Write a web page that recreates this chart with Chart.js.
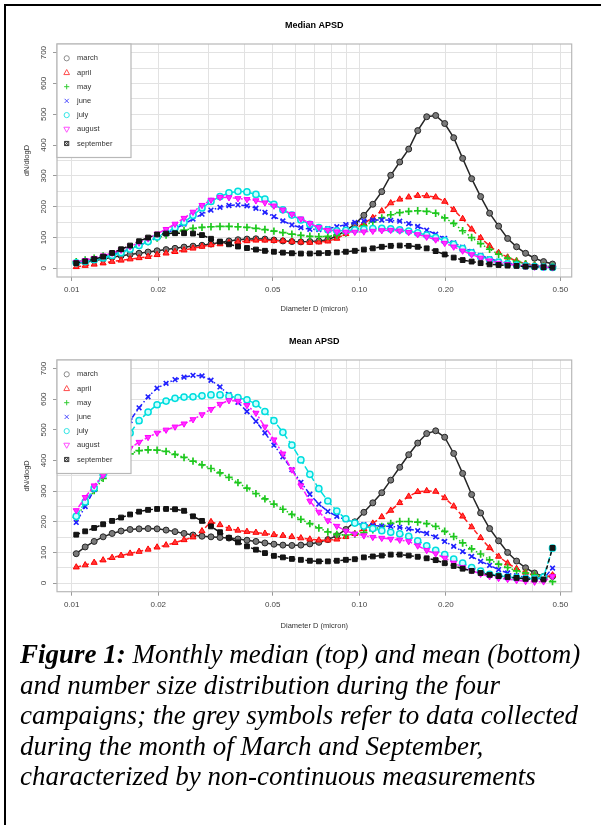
<!DOCTYPE html>
<html>
<head>
<meta charset="utf-8">
<title>Median and mean APSD</title>
<script src="https://cdn.jsdelivr.net/npm/chart.js@4.4.1/dist/chart.umd.min.js"></script>
<style>
    html, body { margin: 0; padding: 0; background: #fff; }
    body { width: 601px; height: 825px; position: relative; overflow: hidden; }
    .rule-top { position: absolute; left: 4px; top: 4px; width: 597px; height: 2px; background: #000; }
    .rule-left { position: absolute; left: 4px; top: 4px; width: 2px; height: 821px; background: #000; }
    .chart-box { position: absolute; left: 0; width: 601px; height: 320px; }
    #box-median { top: 0; }
    #box-mean { top: 316px; }
    .caption {
        position: absolute; left: 20px; top: 639px; width: 581px;
        font-family: "Liberation Serif", "Times New Roman", serif;
        font-style: italic; font-size: 27px; line-height: 30.5px; color: #000;
        white-space: nowrap;
    }
    .caption b { font-weight: bold; }
</style>
</head>
<body>
<div class="rule-top"></div>
<div class="rule-left"></div>
<div class="chart-box" id="box-median"><canvas id="chart-median"></canvas></div>
<div class="chart-box" id="box-mean"><canvas id="chart-mean"></canvas></div>
<div class="caption">
    <b>Figure 1:</b> Monthly median (top) and mean (bottom)<br>
    and number size distribution during the four<br>
    campaigns; the grey symbols refer to data collected<br>
    during the month of March and September,<br>
    characterized by non-continuous measurements
</div>

<script>
// ---- data (diameter in micron, dN/dlogD) ----
const months = ['march', 'april', 'may', 'june', 'july', 'august', 'september'];

const diameters = [
    0.01037, 0.01114, 0.01197, 0.01286, 0.01382, 0.01485, 0.01596, 0.01715, 0.01843, 0.01981,
    0.02129, 0.02287, 0.02458, 0.02641, 0.02838, 0.03050, 0.03278, 0.03522, 0.03785, 0.04068,
    0.04371, 0.04697, 0.05048, 0.05424, 0.05829, 0.06264, 0.06731, 0.07233, 0.07773, 0.08353,
    0.08976, 0.09646, 0.1037, 0.1114, 0.1197, 0.1286, 0.1382, 0.1485, 0.1596, 0.1715,
    0.1843, 0.1981, 0.2129, 0.2287, 0.2458, 0.2641, 0.2838, 0.3050, 0.3278, 0.3522,
    0.3785, 0.4068, 0.4371, 0.4697
];

// Median APSD
const medianMarch = [17, 20, 25, 30, 36, 41, 45, 49, 53, 57, 61, 65, 69, 72, 75, 79, 84, 89, 93, 95,
    96, 95, 92, 89, 87, 86, 87, 89, 93, 105, 123, 143, 172, 208, 249, 302, 345, 387, 447, 492,
    496, 470, 424, 357, 291, 233, 179, 137, 97, 70, 49, 33, 22, 14];
const medianApril = [5, 9, 13, 17, 22, 26, 30, 34, 38, 44, 49, 54, 59, 65, 71, 76, 79, 83, 86, 89,
    91, 91, 90, 89, 87, 85, 84, 85, 88, 97, 112, 128, 146, 164, 186, 212, 224, 231, 236, 235,
    231, 217, 190, 161, 127, 99, 73, 51, 36, 24, 15, 11, 8, 5];
const medianMay = [22, 27, 33, 40, 48, 57, 66, 76, 87, 98, 108, 117, 124, 130, 133, 135, 136, 136, 135, 133,
    130, 126, 121, 116, 111, 107, 104, 103, 104, 108, 115, 125, 138, 151, 164, 174, 181, 185, 187, 185,
    179, 164, 146, 122, 100, 80, 62, 46, 33, 23, 15, 10, 7, 6];
const medianJune = [18, 23, 29, 36, 44, 53, 63, 74, 87, 100, 113, 128, 144, 160, 176, 189, 198, 204, 206, 203,
    195, 182, 168, 154, 141, 132, 127, 126, 129, 135, 142, 149, 154, 157, 157, 156, 153, 145, 136, 124,
    111, 97, 83, 69, 55, 42, 31, 23, 17, 12, 9, 7, 6, 4];
const medianJuly = [18, 22, 28, 34, 42, 51, 62, 74, 87, 102, 116, 132, 150, 172, 196, 217, 233, 245, 250, 248,
    240, 225, 208, 190, 173, 157, 143, 132, 125, 122, 123, 125, 127, 129, 130, 128, 125, 121, 115, 108,
    100, 90, 78, 64, 50, 38, 28, 20, 15, 11, 8, 6, 4, 3];
const medianAugust = [20, 26, 33, 41, 50, 60, 71, 83, 97, 112, 127, 144, 163, 183, 205, 222, 231, 230, 227, 224,
    220, 213, 203, 190, 176, 161, 146, 133, 124, 119, 118, 118, 119, 121, 123, 124, 122, 117, 110, 102,
    93, 82, 70, 57, 45, 34, 25, 17, 13, 10, 7, 5, 4, 3];
const medianSeptember = [17, 23, 30, 38, 50, 62, 74, 88, 100, 110, 113, 114, 114, 113, 108, 96, 87, 78, 71, 66,
    61, 57, 54, 51, 49, 48, 48, 49, 50, 52, 54, 57, 61, 65, 70, 73, 74, 73, 70, 65,
    56, 45, 35, 27, 22, 17, 13, 11, 9, 8, 6, 5, 4, 3];

// Mean APSD
const meanMarch = [96, 118, 136, 151, 162, 170, 175, 177, 178, 177, 173, 168, 162, 157, 153, 151, 149, 147, 144, 140,
    136, 131, 127, 124, 123, 124, 128, 133, 142, 155, 175, 200, 231, 262, 295, 336, 378, 419, 457, 488,
    497, 476, 423, 358, 289, 229, 178, 138, 100, 72, 50, 33, 22, 22];
const meanApril = [52, 59, 67, 75, 83, 90, 97, 103, 110, 117, 124, 132, 141, 150, 170, 200, 190, 178, 172, 168,
    165, 162, 158, 155, 151, 147, 143, 140, 140, 143, 151, 161, 177, 195, 216, 237, 262, 283, 298, 301,
    299, 278, 251, 218, 183, 148, 115, 87, 65, 47, 35, 24, 18, 26];
const meanMay = [215, 258, 302, 342, 378, 405, 422, 432, 435, 434, 430, 420, 410, 398, 386, 374, 360, 345, 328, 310,
    292, 275, 258, 241, 224, 208, 194, 180, 167, 159, 157, 160, 165, 174, 185, 195, 201, 201, 199, 194,
    185, 169, 152, 131, 112, 95, 76, 62, 51, 40, 33, 27, 19, 5];
const meanJune = [198, 250, 305, 360, 420, 480, 530, 572, 608, 636, 652, 664, 672, 678, 676, 662, 640, 615, 590, 560,
    528, 490, 450, 412, 370, 329, 290, 258, 234, 218, 207, 197, 191, 188, 186, 185, 182, 177, 171, 162,
    151, 136, 120, 103, 87, 71, 58, 44, 33, 24, 19, 16, 14, 49];
const meanJuly = [218, 265, 310, 355, 400, 445, 490, 530, 558, 582, 594, 603, 607, 608, 611, 614, 614, 610, 605, 598,
    585, 560, 530, 492, 450, 402, 355, 308, 268, 235, 210, 196, 186, 178, 171, 166, 161, 153, 138, 122,
    107, 93, 78, 65, 51, 39, 29, 24, 20, 17, 15, 15, 20, 114];
const meanAugust = [237, 280, 318, 352, 385, 415, 440, 460, 476, 490, 500, 510, 520, 534, 550, 567, 584, 596, 594, 580,
    555, 510, 468, 422, 370, 318, 268, 232, 204, 186, 170, 161, 155, 150, 147, 144, 141, 136, 122, 107,
    96, 82, 66, 52, 41, 30, 22, 16, 13, 9, 6, 4, 5, 22];
const meanSeptember = [158, 169, 180, 192, 203, 214, 224, 233, 239, 242, 242, 241, 236, 218, 203, 185, 166, 148, 133, 120,
    109, 98, 89, 84, 79, 76, 73, 71, 71, 73, 76, 78, 84, 87, 90, 93, 93, 90, 86, 81,
    75, 65, 56, 47, 40, 33, 27, 23, 20, 17, 14, 12, 12, 115];

// axes: grid positions and labelled ticks
const xGridTicks = [0.01, 0.02, 0.03, 0.04, 0.05, 0.06, 0.07, 0.08, 0.09, 0.1, 0.2, 0.3, 0.4, 0.5];
const xLabelValues = [0.01, 0.02, 0.05, 0.1, 0.2, 0.5];
const xLabelText = ['0.01', '0.02', '0.05', '0.10', '0.20', '0.50'];
const yGridTicks = [0, 50, 100, 150, 200, 250, 300, 350, 400, 450, 500, 550, 600, 650, 700];
const yLabelValues = [0, 100, 200, 300, 400, 500, 600, 700];

// ---- look (R base graphics style) ----
const FONT = '"Liberation Sans", Arial, Helvetica, sans-serif';

const STYLES = [
    { line: '#262626', fill: '#7a7a7a', edge: '#262626', shape: 'circle',   rot: 0,   r: 3.0, bw: 1,   dash: [],              key: '#8c8c8c' },
    { line: '#ff2020', fill: '#ff3a3a', edge: '#ff0000', shape: 'triangle', rot: 0,   r: 3.5, bw: 1,   dash: [5, 3],          key: '#ff4d4d' },
    { line: '#1ec81e', fill: '#1ec81e', edge: '#1ec81e', shape: 'cross',    rot: 0,   r: 3.7, bw: 1.7, dash: [1.5, 2.5],      key: '#33cc33' },
    { line: '#2020ff', fill: '#2020ff', edge: '#2020ff', shape: 'crossRot', rot: 0,   r: 3.3, bw: 1.6, dash: [1.5, 2.5, 5, 2.5], key: '#4d4dff' },
    { line: '#00dede', fill: '#c8ffff', edge: '#00dede', shape: 'circle',   rot: 0,   r: 3.1, bw: 1.5, dash: [7, 3],          key: '#33e6e6' },
    { line: '#ff1aff', fill: '#ff33ff', edge: '#ff00ff', shape: 'triangle', rot: 180, r: 3.5, bw: 1,   dash: [2, 2, 6, 2],    key: '#ff4dff' },
    { line: '#111111', fill: '#151515', edge: '#111111', shape: 'rect',     rot: 0,   r: 3.4, bw: 1,   dash: [4, 3],          key: '#333333' }
];

/**
 * Small legend key, open symbols like R's legend()
 */
function drawKey(ctx, shape, rot, x, y, color) {
    const s = 2.6;
    ctx.strokeStyle = color;
    ctx.lineWidth = 1;
    ctx.beginPath();
    if (shape === 'circle') {
        ctx.arc(x, y, s, 0, Math.PI * 2);
    } else if (shape === 'triangle') {
        const d = rot ? -1 : 1;
        ctx.moveTo(x, y - d * s * 1.15);
        ctx.lineTo(x + s * 1.1, y + d * s * 0.8);
        ctx.lineTo(x - s * 1.1, y + d * s * 0.8);
        ctx.closePath();
    } else if (shape === 'cross') {
        ctx.moveTo(x - s, y); ctx.lineTo(x + s, y);
        ctx.moveTo(x, y - s); ctx.lineTo(x, y + s);
    } else if (shape === 'crossRot') {
        ctx.moveTo(x - s * 0.8, y - s * 0.8); ctx.lineTo(x + s * 0.8, y + s * 0.8);
        ctx.moveTo(x + s * 0.8, y - s * 0.8); ctx.lineTo(x - s * 0.8, y + s * 0.8);
    } else {
        ctx.rect(x - s * 0.8, y - s * 0.8, s * 1.6, s * 1.6);
        ctx.moveTo(x - s * 0.8, y - s * 0.8); ctx.lineTo(x + s * 0.8, y + s * 0.8);
        ctx.moveTo(x + s * 0.8, y - s * 0.8); ctx.lineTo(x - s * 0.8, y + s * 0.8);
    }
    ctx.stroke();
}

// frame, legend box and rotated y labels, drawn the way R does them
const rDecor = {
    id: 'rDecor',
    afterDatasetsDraw(chart) {
        const { ctx, chartArea: ca } = chart;
        ctx.save();
        ctx.strokeStyle = '#b8b8b8';
        ctx.lineWidth = 1.2;
        ctx.strokeRect(ca.left, ca.top, ca.right - ca.left, ca.bottom - ca.top);

        // legend in the top-left corner of the plot
        const lw = 74, lh = 113.5;
        ctx.fillStyle = '#fff';
        ctx.fillRect(ca.left, ca.top, lw, lh);
        ctx.strokeRect(ca.left, ca.top, lw, lh);
        ctx.font = '7.5px ' + FONT;
        ctx.textBaseline = 'middle';
        ctx.textAlign = 'left';
        months.forEach((m, i) => {
            const y = ca.top + 14.3 + i * 14.2;
            const st = STYLES[i];
            drawKey(ctx, st.shape, st.rot, ca.left + 9.7, y, st.key);
            ctx.fillStyle = '#333';
            ctx.fillText(m, ca.left + 20, y);
        });
        ctx.restore();
    },
    afterDraw(chart) {
        const { ctx, chartArea: ca } = chart;
        const yScale = chart.scales.y;
        ctx.save();
        ctx.font = '8px ' + FONT;
        ctx.fillStyle = '#444';
        ctx.textAlign = 'center';
        ctx.textBaseline = 'middle';
        yLabelValues.forEach(v => {
            const py = yScale.getPixelForValue(v);
            ctx.save();
            ctx.translate(ca.left - 13.5, py);
            ctx.rotate(-Math.PI / 2);
            ctx.fillText(String(v), 0, 0);
            ctx.restore();
        });
        ctx.restore();
    }
};

/**
 * Build one APSD panel
 */
function makePanel(canvasId, title, seriesList, geom) {
    const canvas = document.getElementById(canvasId);
    const datasets = seriesList.map((values, i) => {
        const st = STYLES[i];
        return {
            label: months[i],
            data: values,
            borderColor: st.line,
            borderWidth: 1.5,
            borderDash: st.dash,
            pointStyle: st.shape,
            pointRotation: st.rot,
            pointRadius: st.r,
            pointBackgroundColor: st.fill,
            pointBorderColor: st.edge,
            pointBorderWidth: st.bw,
            tension: 0,
            fill: false,
            order: months.length - i
        };
    });

    return new Chart(canvas.getContext('2d'), {
        type: 'line',
        data: { labels: diameters, datasets },
        options: {
            responsive: true,
            maintainAspectRatio: false,
            animation: false,
            events: [],
            layout: { padding: { left: 0, right: 29.3, top: 0, bottom: 0 } },
            plugins: {
                legend: { display: false },
                tooltip: { enabled: false },
                title: {
                    display: true,
                    text: title,
                    fullSize: false,
                    color: '#000',
                    font: { family: FONT, size: 9, weight: 'bold' },
                    padding: { top: 20, bottom: 13.2 }
                }
            },
            scales: {
                x: {
                    type: 'logarithmic',
                    bounds: 'data',
                    min: 0.00889,
                    max: 0.5476,
                    afterBuildTicks: s => { s.ticks = xGridTicks.map(v => ({ value: v })); },
                    afterFit: s => { s.height = geom.xHeight; },
                    border: { display: false },
                    grid: {
                        color: '#e2e2e2',
                        lineWidth: 1,
                        tickLength: 4,
                        tickColor: c => xLabelValues.includes(c.tick && c.tick.value) ? '#9a9a9a' : 'rgba(0,0,0,0)'
                    },
                    ticks: {
                        autoSkip: false,
                        maxRotation: 0,
                        minRotation: 0,
                        padding: 4,
                        color: '#444',
                        font: { family: FONT, size: 8 },
                        callback: v => {
                            const k = xLabelValues.indexOf(v);
                            return k >= 0 ? xLabelText[k] : '';
                        }
                    },
                    title: {
                        display: true,
                        text: 'Diameter D (micron)',
                        color: '#333',
                        font: { family: FONT, size: 7.5 },
                        padding: { top: 0, bottom: geom.xTitlePad }
                    }
                },
                y: {
                    type: 'linear',
                    bounds: 'data',
                    min: -28,
                    max: 728,
                    afterBuildTicks: s => { s.ticks = yGridTicks.map(v => ({ value: v })); },
                    afterFit: s => { s.width = 57; },
                    border: { display: false },
                    grid: {
                        color: '#e2e2e2',
                        lineWidth: 1,
                        tickLength: 4,
                        tickColor: c => yLabelValues.includes(c.tick && c.tick.value) ? '#9a9a9a' : 'rgba(0,0,0,0)'
                    },
                    ticks: { display: false },
                    title: {
                        display: true,
                        text: 'dN/dlogD',
                        color: '#333',
                        font: { family: FONT, size: 7.5 },
                        padding: { top: 22.5, bottom: 0 }
                    }
                }
            }
        },
        plugins: [rDecor]
    });
}

makePanel('chart-median', 'Median APSD',
    [medianMarch, medianApril, medianMay, medianJune, medianJuly, medianAugust, medianSeptember],
    { xHeight: 43, xTitlePad: 7 });

makePanel('chart-mean', 'Mean APSD',
    [meanMarch, meanApril, meanMay, meanJune, meanJuly, meanAugust, meanSeptember],
    { xHeight: 44.3, xTitlePad: 5.8 });
</script>
</body>
</html>
